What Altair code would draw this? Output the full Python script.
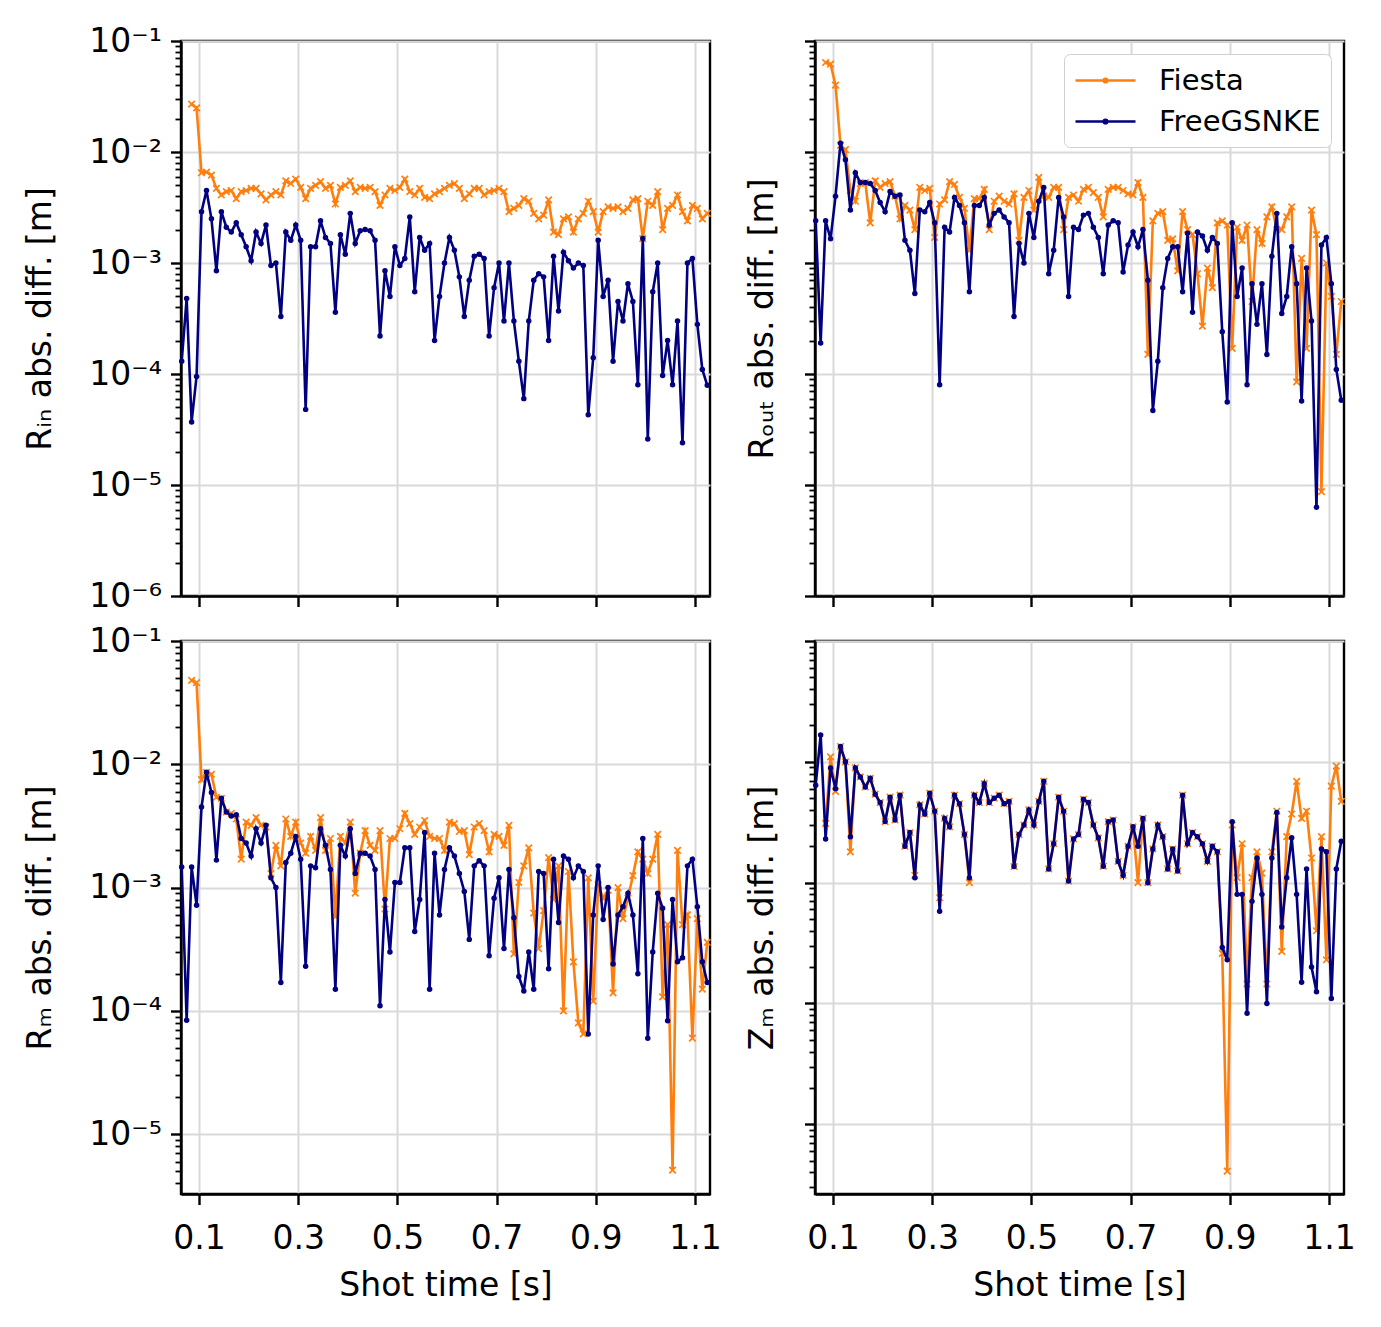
import altair as alt
import pandas as pd

# sampling grid of shot times [s]
shot_time = [round(0.065 + 0.01 * i, 3) for i in range(107)]

# absolute differences, in millimetres (converted to m below)
rin_fiesta = [None, None, 27, 25, 6.5, 6.6, 6.2, 4.7, 4.1, 4.4,
              4.5, 3.8, 4.4, 4.5, 4.7, 4.7, 4.2, 3.7, 4.1, 4.4,
              4.1, 5.5, 5.2, 5.7, 4.8, 3.8, 4.7, 5.0, 5.4, 4.7,
              5.0, 3.4, 4.8, 5.0, 5.5, 4.4, 4.8, 4.7, 4.8, 4.4,
              3.3, 4.1, 4.7, 4.5, 4.8, 5.7, 4.4, 4.1, 4.7, 3.9,
              3.8, 4.2, 4.4, 4.7, 5.0, 5.2, 4.7, 3.8, 4.2, 4.7,
              4.7, 4.1, 4.4, 4.5, 4.7, 4.4, 2.9, 3.1, 3.3, 3.8,
              3.6, 2.8, 2.5, 2.7, 3.7, 1.9, 1.8, 2.5, 2.6, 1.9,
              2.5, 2.8, 3.6, 2.9, 1.9, 2.9, 3.2, 3.1, 3.2, 2.9,
              3.1, 3.7, 3.8, 1.66, 3.6, 3.3, 4.4, 2.0, 3.1, 3.3,
              4.1, 2.9, 2.4, 3.3, 3.1, 2.5, 2.8]
rin_free = [0.13, 0.48, 0.037, 0.095, 2.9, 4.5, 2.5, 0.85, 2.9, 2.1,
            1.9, 2.3, 1.8, 1.4, 1.05, 1.9, 1.5, 2.2, 0.95, 1.0,
            0.33, 1.9, 1.6, 2.2, 1.6, 0.048, 1.4, 1.4, 2.4, 1.7,
            1.5, 0.36, 1.8, 1.2, 2.8, 1.5, 1.95, 2.0, 1.95, 1.6,
            0.22, 0.85, 0.5, 1.4, 0.95, 1.1, 2.6, 0.55, 1.7, 1.3,
            1.5, 0.2, 0.5, 1.0, 1.7, 1.3, 0.75, 0.33, 0.7, 1.15,
            1.2, 1.1, 0.22, 0.6, 1.0, 0.3, 1.0, 0.3, 0.13, 0.06,
            0.3, 0.7, 0.8, 0.75, 0.2, 1.15, 0.37, 1.25, 1.05, 0.9,
            1.0, 0.95, 0.043, 0.14, 1.6, 0.5, 0.7, 0.13, 0.45, 0.3,
            0.65, 0.45, 0.08, 1.66, 0.026, 0.55, 1.0, 0.097, 0.2, 0.08,
            0.3, 0.024, 1.0, 1.1, 0.28, 0.11, 0.079]

rout_fiesta = [None, None, 64, 62, 40, 11.5, 10.5, 4.5, 3.6, 5.2,
               5.3, 2.3, 5.5, 4.8, 5.2, 5.4, 4.0, 2.5, 3.3, 3.0,
               2.0, 4.8, 4.5, 4.7, 1.7, 3.4, 3.7, 5.4, 5.1, 3.9,
               3.1, 1.3, 3.8, 3.8, 4.6, 2.0, 3.6, 4.0, 3.6, 3.4,
               4.2, 1.6, 3.9, 4.5, 3.0, 5.9, 4.0, 3.9, 4.8, 4.8,
               2.0, 3.9, 4.1, 3.6, 4.6, 4.8, 4.3, 3.9, 2.6, 4.6,
               4.8, 4.8, 4.5, 4.2, 4.1, 5.3, 3.9, 0.15, 2.4, 2.8,
               2.9, 1.6, 1.65, 0.85, 2.9, 2.0, 1.8, 0.8, 0.27, 0.9,
               0.6, 2.3, 2.4, 2.2, 0.17, 2.1, 1.6, 2.2, 0.45, 2.0,
               1.5, 2.6, 3.2, 2.0, 2.0, 2.6, 3.2, 0.085, 1.1, 0.17,
               3.0, 1.8, 0.0087, 1.0, 0.5, 0.15, 0.45]
rout_free = [2.4, 0.19, 2.4, 1.65, 4.0, 12, 8.5, 3.0, 6.5, 5.3,
             5.3, 5.2, 4.5, 3.5, 2.9, 4.4, 4.0, 4.1, 1.6, 1.3,
             0.53, 3.0, 2.9, 3.5, 2.3, 0.08, 2.1, 1.9, 3.9, 3.3,
             2.3, 0.55, 3.3, 3.3, 3.9, 2.2, 2.8, 3.0, 2.6, 2.3,
             0.33, 1.5, 1.0, 2.8, 1.7, 3.6, 4.8, 0.8, 1.3, 3.9,
             2.6, 0.5, 2.1, 2.0, 2.7, 2.8, 2.1, 1.7, 0.8, 2.2,
             2.4, 2.3, 0.83, 1.45, 1.9, 1.4, 2.0, 0.7, 0.047, 0.13,
             0.6, 1.1, 1.4, 1.4, 0.55, 1.85, 0.36, 1.9, 1.75, 1.3,
             1.7, 1.5, 0.24, 0.056, 2.3, 0.5, 0.9, 0.08, 0.65, 0.28,
             0.65, 0.15, 1.15, 2.8, 0.35, 0.5, 1.4, 0.65, 0.057, 0.9,
             0.3, 0.0063, 1.45, 1.7, 0.65, 0.11, 0.058]

rm_fiesta = [None, None, 48, 46, 7.5, 8.6, 8.3, 5.4, 5.3, 4.1,
             4.0, 3.6, 1.7, 3.4, 3.2, 3.7, 3.2, 3.1, 1.3, 2.2,
             1.5, 3.6, 2.6, 3.4, 2.3, 1.9, 2.6, 2.0, 3.7, 2.0,
             2.5, 0.58, 2.6, 2.3, 3.4, 0.9, 1.9, 2.9, 2.2, 2.0,
             2.9, 0.67, 2.5, 2.5, 3.0, 4.0, 3.3, 2.7, 3.1, 3.5,
             2.6, 2.5, 2.5, 2.0, 3.4, 3.3, 2.85, 2.9, 1.85, 3.1,
             3.3, 2.9, 1.95, 2.7, 2.6, 2.2, 3.2, 0.29, 1.1, 1.5,
             2.1, 0.62, 0.32, 0.65, 1.75, 0.8, 1.5, 0.1, 1.35, 0.25,
             0.08, 0.065, 1.2, 0.12, 1.05, 0.82, 0.95, 0.14, 1.0, 0.56,
             0.82, 1.25, 1.95, 1.7, 1.3, 1.7, 2.7, 0.13, 0.5, 0.0051,
             2.0, 0.5, 0.6, 0.06, 0.56, 0.15, 0.36]
rm_free = [1.47, 0.084, 1.47, 0.72, 4.5, 8.6, 5.9, 1.67, 5.3, 4.1,
           3.8, 3.9, 2.5, 2.3, 1.8, 3.0, 2.3, 3.2, 1.2, 1.0,
           0.17, 1.6, 1.9, 2.6, 1.7, 0.23, 1.5, 1.45, 3.0, 2.2,
           1.4, 0.15, 2.2, 1.8, 3.0, 1.3, 1.9, 1.9, 1.8, 1.4,
           0.11, 0.8, 0.3, 1.1, 1.1, 2.1, 2.1, 0.44, 0.8, 2.8,
           0.15, 1.9, 0.6, 1.4, 2.1, 1.8, 1.3, 0.93, 0.38, 1.5,
           1.65, 1.5, 0.28, 0.82, 1.2, 0.32, 1.4, 0.57, 0.19, 0.145,
           0.3, 0.15, 1.35, 1.3, 0.22, 1.7, 0.52, 1.8, 1.7, 1.2,
           1.5, 1.35, 0.065, 0.6, 1.5, 0.55, 1.0, 0.24, 0.6, 0.7,
           0.9, 0.6, 0.2, 2.5, 0.06, 0.3, 0.9, 0.68, 0.083, 0.8,
           0.25, 0.27, 1.5, 1.7, 0.7, 0.25, 0.17]

zm_fiesta = [None, None, 3.1, 11, 5.7, 13.4, 10, 1.8, 8.9, 7.5,
             6.2, 7.3, 5.4, 4.6, 3.2, 5.1, 3.3, 5.3, 2.0, 2.6,
             1.15, 4.4, 3.7, 5.5, 3.9, 0.75, 3.4, 2.9, 5.3, 4.5,
             2.5, 1.0, 5.3, 4.6, 6.6, 4.6, 5.0, 5.3, 4.5, 4.7,
             1.36, 2.5, 3.0, 4.0, 3.0, 4.7, 6.9, 1.3, 2.1, 5.1,
             3.9, 1.03, 2.3, 2.5, 4.9, 4.6, 3.0, 2.35, 1.37, 3.2,
             3.3, 1.5, 1.15, 2.0, 2.9, 1.0, 3.4, 1.0, 1.9, 3.0,
             2.4, 1.3, 1.9, 1.25, 5.3, 2.1, 2.6, 2.4, 2.1, 1.5,
             2.0, 1.8, 0.26, 0.0041, 3.0, 1.1, 2.1, 0.145, 1.1, 1.8,
             1.2, 0.145, 1.8, 3.9, 0.27, 2.4, 3.7, 6.9, 3.4, 3.9,
             1.6, 0.4, 2.4, 0.23, 6.3, 9.2, 4.7]
zm_free = [6.4, 16.7, 2.3, 8.9, 6.0, 13.4, 10, 2.4, 8.9, 7.5,
           6.2, 7.3, 5.4, 4.6, 3.2, 5.1, 3.3, 5.3, 2.0, 2.6,
           1.1, 4.4, 3.7, 5.5, 3.9, 0.58, 3.4, 2.9, 5.3, 4.5,
           2.5, 1.1, 5.3, 4.6, 6.6, 4.6, 5.0, 5.3, 4.5, 4.7,
           1.36, 2.5, 3.0, 4.0, 3.0, 4.7, 6.9, 1.3, 2.1, 5.1,
           3.9, 1.03, 2.3, 2.5, 4.9, 4.6, 3.0, 2.35, 1.37, 3.2,
           3.3, 1.5, 1.15, 2.0, 2.9, 2.0, 3.4, 1.0, 1.9, 3.0,
           2.4, 1.3, 1.9, 1.25, 5.3, 2.1, 2.6, 2.4, 2.1, 1.5,
           2.0, 1.8, 0.29, 0.23, 3.2, 0.8, 0.8, 0.083, 0.7, 1.6,
           0.8, 0.1, 1.6, 3.8, 0.43, 1.1, 2.35, 0.8, 0.15, 1.3,
           0.2, 0.125, 1.9, 1.8, 0.11, 1.3, 2.2]

series_names = ["Fiesta", "FreeGSNKE"]
series_colors = ["#ff7f0e", "#000080"]
x_ticks = [0.1, 0.3, 0.5, 0.7, 0.9, 1.1]
y_titles = ["R\u1d62\u2099 abs. diff. [m]", "R\u2092\u1d64\u209c abs. diff. [m]",
            "R\u2098 abs. diff. [m]", "Z\u2098 abs. diff. [m]"]
FONT = "DejaVu Sans"


def panel_df(fiesta_mm, free_mm):
    rows = []
    for ti, a, b in zip(shot_time, fiesta_mm, free_mm):
        if a is not None:
            rows.append({"t": ti, "v": a / 1000.0, "series": "Fiesta"})
        if b is not None:
            rows.append({"t": ti, "v": b / 1000.0, "series": "FreeGSNKE"})
    return pd.DataFrame(rows)


def y_values(lo, hi):
    vals = []
    for n in range(-7, 0):
        for k in range(1, 10):
            v = float(f"{k}e{n}")
            if lo * 0.999 <= v <= hi * 1.001:
                vals.append(v)
    return vals


MAJOR = "indexof([0.1, 0.01, 0.001, 0.0001, 0.00001, 0.000001], datum.value) >= 0"
LABEL_EXPR = ("datum.value == 0.1 ? '10\u207b\u00b9' : datum.value == 0.01 ? '10\u207b\u00b2' : "
              "datum.value == 0.001 ? '10\u207b\u00b3' : datum.value == 0.0001 ? '10\u207b\u2074' : "
              "datum.value == 0.00001 ? '10\u207b\u2075' : datum.value == 0.000001 ? '10\u207b\u2076' : ''")

# legend symbol: a line with a small dot in its middle (box is -1..1, line runs -1..3)
LEGEND_SYMBOL = "M-1,0L3,0M0.88,0A0.12,0.12,0,1,0,1.12,0A0.12,0.12,0,1,0,0.88,0"
X_MARK = "M-1,-1L1,1M-1,1L1,-1"


def panel(df, ytitle, ydomain, left, bottom, legend, height):
    cscale = alt.Scale(domain=series_names, range=series_colors)
    xaxis = alt.Axis(values=x_ticks, format=".1f", labels=bottom,
                     title="Shot time [s]" if bottom else None,
                     tickSize=10.5, tickWidth=2.4, labelPadding=18, titlePadding=14,
                     grid=True, labelOverlap=False)
    yaxis = alt.Axis(values=y_values(*ydomain), labelExpr=LABEL_EXPR, labels=left,
                     title=ytitle, labelOverlap=False, labelPadding=9,
                     tickSize={"condition": {"test": MAJOR, "value": 10.5}, "value": 6},
                     tickWidth={"condition": {"test": MAJOR, "value": 2.4}, "value": 1.8},
                     gridOpacity={"condition": {"test": MAJOR, "value": 1}, "value": 0},
                     minExtent=98 if left else 12, maxExtent=98 if left else 12,
                     titlePadding=26 if left else 24)
    x = alt.X("t:Q", scale=alt.Scale(domain=[0.0636, 1.1305], nice=False, zero=False), axis=xaxis)
    y = alt.Y("v:Q", scale=alt.Scale(type="log", domain=list(ydomain), nice=False), axis=yaxis)
    color = alt.Color("series:N", scale=cscale, legend=legend)
    base = alt.Chart(df)
    f_line = base.transform_filter("datum.series == 'Fiesta'").mark_line(strokeWidth=2.6).encode(
        x=x, y=y, color=color)
    f_pts = base.transform_filter("datum.series == 'Fiesta'").mark_point(
        shape=X_MARK, size=42, strokeWidth=1.7, filled=False, opacity=1).encode(
        x=x, y=y, color=alt.value(series_colors[0]))
    g_line = base.transform_filter("datum.series == 'FreeGSNKE'").mark_line(strokeWidth=2.6).encode(
        x=x, y=y, color=color)
    g_pts = base.transform_filter("datum.series == 'FreeGSNKE'").mark_circle(
        size=30, opacity=1).encode(x=x, y=y, color=alt.value(series_colors[1]))
    return alt.layer(f_line, f_pts, g_line, g_pts).properties(width=529, height=height)


legend_tr = alt.Legend(title=None, orient="top-right", offset=13, padding=10,
                       cornerRadius=6, strokeColor="#cfcfcf", fillColor="white",
                       labelFont=FONT, labelFontSize=29, labelLimit=400,
                       symbolType=LEGEND_SYMBOL, symbolSize=900, symbolStrokeWidth=2.6,
                       rowPadding=9, labelOffset=52)

tl = panel(panel_df(rin_fiesta, rin_free), y_titles[0], (1e-6, 1e-1), True, False, None, 555)
tr = panel(panel_df(rout_fiesta, rout_free), y_titles[1], (1e-6, 1e-1), False, False, legend_tr, 555)
bl = panel(panel_df(rm_fiesta, rm_free), y_titles[2], (3.27e-6, 1e-1), True, True, None, 553)
br = panel(panel_df(zm_fiesta, zm_free), y_titles[3], (2.65e-6, 1e-1), False, True, None, 553)

chart = alt.concat(tl, tr, bl, br, columns=2, spacing={"row": 45, "column": 105},
                   bounds="flush").resolve_scale(color="independent").properties(
    padding={"left": 14, "top": 15, "right": 5, "bottom": 5}
).configure(background="white").configure_view(
    stroke="black", strokeWidth=2.4
).configure_axis(
    domainColor="black", domainWidth=2.4, tickColor="black",
    labelFont=FONT, titleFont=FONT, labelFontSize=33, titleFontSize=33,
    titleFontWeight="normal", labelColor="black", titleColor="black",
    gridColor="#d9d9d9", gridWidth=2
)

chart.save("out.html", embed_options={"renderer": "svg", "actions": False})
